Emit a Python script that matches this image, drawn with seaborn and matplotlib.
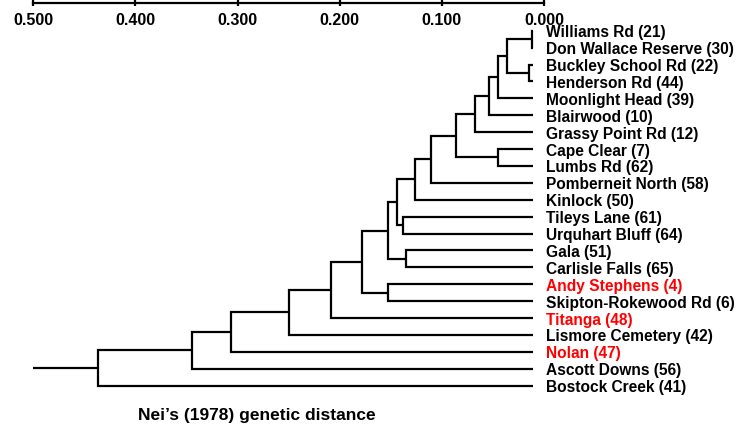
import matplotlib
matplotlib.use("Agg")
import matplotlib.pyplot as plt
import numpy as np
import pandas as pd
import seaborn as sns

# Populations in leaf order (top to bottom)
populations = [
    "Williams Rd (21)", "Don Wallace Reserve (30)", "Buckley School Rd (22)",
    "Henderson Rd (44)", "Moonlight Head (39)", "Blairwood (10)",
    "Grassy Point Rd (12)", "Cape Clear (7)", "Lumbs Rd (62)",
    "Pomberneit North (58)", "Kinlock (50)", "Tileys Lane (61)",
    "Urquhart Bluff (64)", "Gala (51)", "Carlisle Falls (65)",
    "Andy Stephens (4)", "Skipton-Rokewood Rd (6)", "Titanga (48)",
    "Lismore Cemetery (42)", "Nolan (47)", "Ascott Downs (56)",
    "Bostock Creek (41)",
]
highlighted = ["Andy Stephens (4)", "Titanga (48)", "Nolan (47)"]

# Cluster joins: child indices (leaves 0..21, then clusters 22..) and join distance
join_left = [0, 2, 22, 24, 25, 26, 7, 27, 29, 30, 11, 31, 13, 33, 15, 35, 37, 38, 39, 40, 41]
join_right = [1, 3, 23, 4, 5, 6, 8, 28, 9, 10, 12, 32, 14, 34, 16, 36, 17, 18, 19, 20, 21]
join_dist = [0.012, 0.015, 0.036, 0.045, 0.054, 0.068, 0.045, 0.086, 0.111, 0.126,
             0.138, 0.144, 0.135, 0.153, 0.153, 0.178, 0.209, 0.250, 0.306, 0.345, 0.437]
leaf_tip = 0.011
root_end = 0.500

scale_ticks = [0.5, 0.4, 0.3, 0.2, 0.1, 0.0]
scale_labels = ["0.500", "0.400", "0.300", "0.200", "0.100", "0.000"]
xlabel = "Nei\u2019s (1978) genetic distance"

# Build dendrogram segments
n = len(populations)
node_x = {i: leaf_tip for i in range(n)}
node_y = {i: float(i) for i in range(n)}
rows = []
for k, (a, b, d) in enumerate(zip(join_left, join_right, join_dist)):
    nid = n + k
    pts = [(node_x[a], node_y[a]), (d, node_y[a]), (d, node_y[b]), (node_x[b], node_y[b])]
    for px, py in pts:
        rows.append({"seg": k, "x": px, "y": py})
    node_x[nid] = d
    node_y[nid] = (node_y[a] + node_y[b]) / 2
root = n + len(join_dist) - 1
rows.append({"seg": len(join_dist), "x": node_x[root], "y": node_y[root]})
rows.append({"seg": len(join_dist), "x": root_end, "y": node_y[root]})
segments = pd.DataFrame(rows)

sns.set_theme(style="white")
plt.rcParams["font.family"] = ["Liberation Sans", "DejaVu Sans"]
plt.rcParams["font.weight"] = "bold"
plt.rcParams["text.color"] = "black"
plt.rcParams["xtick.color"] = "black"
plt.rcParams["xtick.labelcolor"] = "black"

W, H = 740, 427
fig = plt.figure(figsize=(W / 100, H / 100), dpi=100)
fig.patch.set_facecolor("white")

left_px, right_px = 33.3, 544.0
row0_px, row_step = 31.7, 16.9
ax = fig.add_axes([left_px / W, 0, (right_px - left_px) / W, 1])
ax.set_xlim(0.5, 0.0)
ax.set_ylim((H - row0_px) / row_step, -row0_px / row_step)
ax.axis("off")

sns.lineplot(data=segments, x="x", y="y", units="seg", estimator=None, sort=False,
             color="black", linewidth=1.6, legend=False, ax=ax,
             solid_joinstyle="miter", solid_capstyle="butt")

for i, name in enumerate(populations):
    col = "#ff0000" if name in highlighted else "black"
    ax.annotate(name, xy=(0.0, i), xytext=(1.5, -4.0), textcoords="offset points",
                ha="left", va="baseline", fontsize=11.2, fontweight="bold",
                color=col, annotation_clip=False)

# Distance scale along the top
sax = fig.add_axes([left_px / W, 1 - 4.3 / H, (right_px - left_px) / W, 1e-5])
sax.set_xlim(0.5, 0.0)
sax.set_yticks([])
for s in ["top", "left", "right"]:
    sax.spines[s].set_visible(False)
sax.spines["bottom"].set_linewidth(1.6)
sax.spines["bottom"].set_color("black")
sax.set_xticks(scale_ticks)
sax.set_xticklabels(scale_labels, fontsize=11.5, fontweight="bold", color="black")
sax.tick_params(axis="x", direction="inout", length=4.5, width=1.6, color="black",
                pad=4, bottom=True)
sax.patch.set_alpha(0)

fig.text(256.7 / W, 1 - 420 / H, xlabel, ha="center", va="baseline",
         fontsize=12.5, fontweight="bold", color="black")

fig.savefig("out.png", dpi=100, facecolor="white")
